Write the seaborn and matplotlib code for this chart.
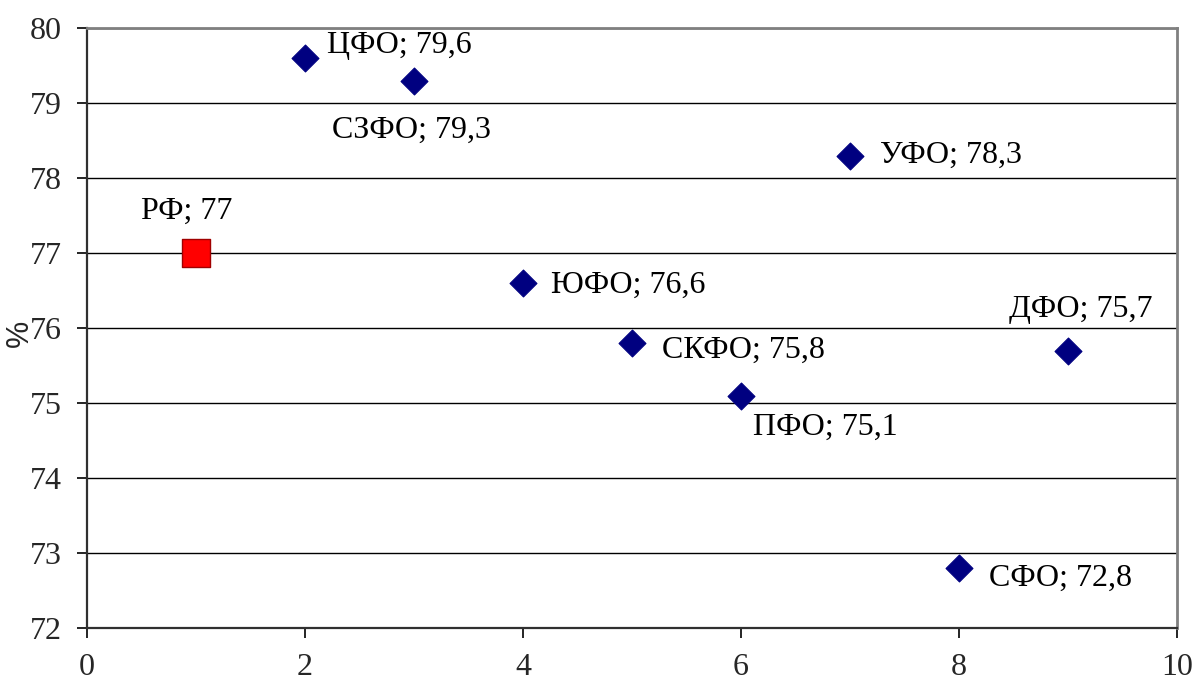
import matplotlib
matplotlib.use("Agg")
import matplotlib.pyplot as plt
import seaborn as sns
import pandas as pd

# Federal districts: position on the x axis and share, %
regions = ["РФ", "ЦФО", "СЗФО", "ЮФО", "СКФО", "ПФО", "УФО", "СФО", "ДФО"]
positions = [1, 2, 3, 4, 5, 6, 7, 8, 9]
values = [77, 79.6, 79.3, 76.6, 75.8, 75.1, 78.3, 72.8, 75.7]

x_ticks = [0, 2, 4, 6, 8, 10]
y_ticks = [72, 73, 74, 75, 76, 77, 78, 79, 80]

# label placement: (dx, dy) in pixels from the marker, horizontal alignment
label_place = {
    "РФ": (-9, 42, "center"),
    "ЦФО": (22, 12, "left"),
    "СЗФО": (-2, -50, "center"),
    "ЮФО": (28, -2, "left"),
    "СКФО": (30, -7, "left"),
    "ПФО": (84, -32, "center"),
    "УФО": (30, 0, "left"),
    "СФО": (30, -10, "left"),
    "ДФО": (13, 41, "center"),
}

sns.set_style("white")
plt.rcParams["font.family"] = ["Liberation Serif", "DejaVu Serif"]

df = pd.DataFrame({"region": regions, "x": positions, "value": values})
df["kind"] = ["total" if r == "РФ" else "district" for r in regions]

fig = plt.figure(figsize=(11.97, 6.78), dpi=100)
ax = fig.add_axes([87 / 1197, 50 / 678, (1177 - 87) / 1197, (628 - 28) / 678])

districts = df[df["kind"] == "district"]
total = df[df["kind"] == "total"]

sns.scatterplot(data=districts, x="x", y="value", marker="D", s=13.7 ** 2,
                color="#000080", edgecolor="#000080", linewidth=0.8, ax=ax,
                zorder=3)
sns.scatterplot(data=total, x="x", y="value", marker="s", s=19.5 ** 2,
                color="#ff0000", edgecolor="#a00000", linewidth=1.0, ax=ax,
                zorder=3)

for r, xv, v in zip(regions, positions, values):
    txt = f"{v:g}".replace(".", ",")
    dx, dy, ha = label_place[r]
    ax.annotate(f"{r}; {txt}", (xv, v), xytext=(dx, dy),
                textcoords="offset pixels", ha=ha, va="center",
                fontsize=23, color="black", zorder=4)

ax.set_xlim(0, 10)
ax.set_ylim(72, 80)
ax.set_xticks(x_ticks)
ax.set_yticks(y_ticks)
ax.set_xticklabels([str(t) for t in x_ticks])
ax.set_yticklabels([str(t) for t in y_ticks])
ax.tick_params(axis="both", direction="out", length=7, width=1.2,
               labelsize=23, pad=11, color="black")
ax.tick_params(axis="x", bottom=True)
ax.tick_params(axis="y", left=True)

ax.yaxis.grid(True, color="black", linewidth=1.0)
ax.xaxis.grid(False)
ax.set_axisbelow(True)

ax.spines["left"].set_color("#303030")
ax.spines["bottom"].set_color("#303030")
ax.spines["left"].set_linewidth(1.6)
ax.spines["bottom"].set_linewidth(1.6)
ax.spines["top"].set_color("#808080")
ax.spines["right"].set_color("#808080")
ax.spines["top"].set_linewidth(2.0)
ax.spines["right"].set_linewidth(2.0)

ax.set_xlabel("")
ax.set_ylabel("%", fontsize=22, family=["Liberation Sans", "DejaVu Sans"],
              labelpad=0)
ax.yaxis.set_label_coords(-52 / 1090, (628 - 333) / 600)

fig.savefig("out.png", dpi=100)
